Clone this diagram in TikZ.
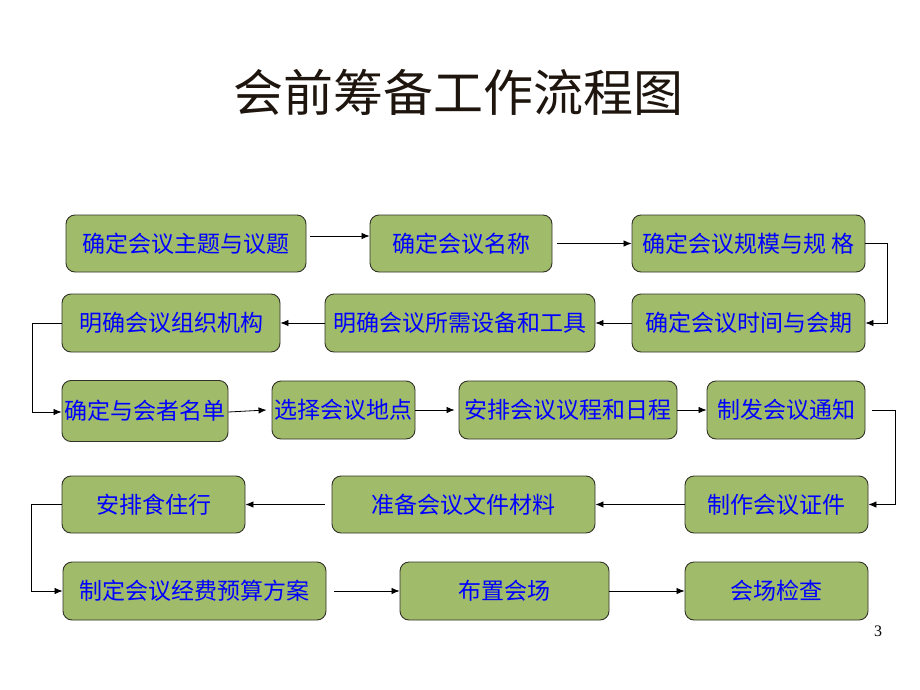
\documentclass[tikz,border=0pt]{standalone}
\usepackage{fontspec}
\newfontfamily\cjk{Noto Sans CJK SC}
\newfontfamily\numfont{Liberation Serif}
\usetikzlibrary{arrows.meta}
\definecolor{boxgreen}{RGB}{160,188,106}
\definecolor{boxline}{RGB}{50,50,40}
\definecolor{txtblue}{RGB}{0,0,255}
\definecolor{titlecol}{RGB}{30,22,14}
\begin{document}
\begin{tikzpicture}[x=1pt,y=-1pt,
  box/.style={draw=boxline,line width=0.9pt,fill=boxgreen,rounded corners=9pt,
    inner sep=0pt,text=txtblue,font=\cjk\fontsize{23}{25}\selectfont},
  arr/.style={draw=black,line width=0.8pt,-{Latex[length=8pt,width=6.5pt]}}]
\useasboundingbox[fill=white] (0,0) rectangle (920,690);
% title
\node[text=titlecol,font=\cjk\fontsize{50}{54}\selectfont] (title) at (458,92) {会前筹备工作流程图};
% row 1
\node[box,minimum width=240,minimum height=57] (A1) at (186,243.5) {确定会议主题与议题};
\node[box,minimum width=182,minimum height=57] (A2) at (461,243.5) {确定会议名称};
\node[box,minimum width=233,minimum height=57] (A3) at (748.5,243.5) {确定会议规模与规 格};
% row 2
\node[box,minimum width=233,minimum height=58] (B1) at (748.5,323) {确定会议时间与会期};
\node[box,minimum width=270,minimum height=58] (B2) at (460,323) {明确会议所需设备和工具};
\node[box,minimum width=218,minimum height=58] (B3) at (171,323) {明确会议组织机构};
% row 3
\node[box,minimum width=166,minimum height=61] (C1) at (145,411) {确定与会者名单};
\node[box,minimum width=143,minimum height=58] (C2) at (343.5,410) {选择会议地点};
\node[box,minimum width=218,minimum height=58] (C3) at (568,410) {安排会议议程和日程};
\node[box,minimum width=158,minimum height=58] (C4) at (786,410) {制发会议通知};
% row 4
\node[box,minimum width=183,minimum height=57] (D1) at (776.5,504.5) {制作会议证件};
\node[box,minimum width=263,minimum height=57] (D2) at (463.5,504.5) {准备会议文件材料};
\node[box,minimum width=183,minimum height=57] (D3) at (153.5,504.5) {安排食住行};
% row 5
\node[box,minimum width=263,minimum height=58] (E1) at (194.5,591) {制定会议经费预算方案};
\node[box,minimum width=209,minimum height=58] (E2) at (504.5,591) {布置会场};
\node[box,minimum width=183,minimum height=58] (E3) at (776.5,591) {会场检查};
% page number
\node[font=\numfont\fontsize{16}{18}\selectfont] (pg) at (878,631) {3};
% connectors
\draw[arr,shorten <=4pt] ([yshift=7.5]A1.east) -- ([yshift=7.5]A2.west);
\draw[arr,shorten <=5pt] (A2.east) -- (A3.west);
\draw[arr] (A3.east) -- ++(22,0) |- (B1.east);
\draw[arr] (B1.west) -- (B2.east);
\draw[arr] (B2.west) -- (B3.east);
\draw[arr] (B3.west) -- ++(-29,0) |- ([yshift=-1]C1.west);
\draw[arr] ([yshift=-1]C1.east) -- ([xshift=-5]C2.west);
\draw[arr] (C2.east) -- ([xshift=-4]C3.west);
\draw[arr] (C3.east) -- (C4.west);
\draw[arr,shorten <=7pt] (C4.east) -- ++(30,0) |- (D1.east);
\draw[arr] (D1.west) -- (D2.east);
\draw[arr,shorten <=7pt] (D2.west) -- (D3.east);
\draw[arr] (D3.west) -- ++(-30,0) |- (E1.west);
\draw[arr,shorten <=8pt] (E1.east) -- (E2.west);
\draw[arr] (E2.east) -- (E3.west);
\end{tikzpicture}
\end{document}
